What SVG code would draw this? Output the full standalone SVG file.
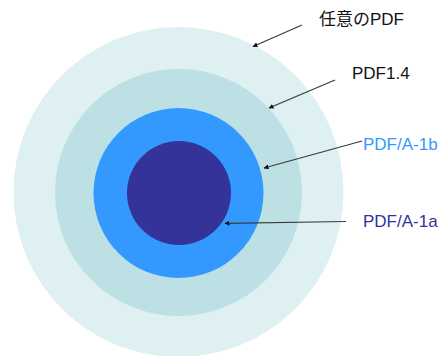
<svg xmlns="http://www.w3.org/2000/svg" width="447" height="356" viewBox="0 0 447 356">
<style>
.lbl{font-family:"Liberation Sans","Noto Sans CJK JP",Arial,sans-serif;font-size:17px}
.conn{stroke:#3a3a3a;stroke-width:1.2;fill:none;marker-end:url(#ah)}
</style>
<defs>
<marker id="ah" viewBox="0 0 10 10" refX="9" refY="5" markerWidth="5" markerHeight="5" orient="auto" markerUnits="userSpaceOnUse">
<path d="M0,0 L10,5 L0,10 z" fill="#111"/>
</marker>
</defs>
<rect width="447" height="356" fill="#ffffff"/>
<g id="any-pdf"><circle cx="178.5" cy="192" r="165" fill="#def0f1"/><text class="lbl" x="319" y="25" fill="#111">任意のPDF</text></g>
<g id="pdf14"><circle cx="178.5" cy="192.5" r="123.5" fill="#bce0e3"/><text class="lbl" x="352" y="79" fill="#111">PDF1.4</text></g>
<g id="pdfa1b"><circle cx="178.5" cy="193" r="85" fill="#3399ff"/><text class="lbl" x="363" y="150" fill="#3399ff">PDF/A-1b</text></g>
<g id="pdfa1a"><circle cx="179" cy="193" r="52" fill="#333399"/><text class="lbl" x="363" y="227" fill="#333399">PDF/A-1a</text></g>
<g id="connectors">
<line class="conn" x1="302" y1="25" x2="253" y2="46.5"/>
<line class="conn" x1="335" y1="80" x2="269" y2="108"/>
<line class="conn" x1="362" y1="141" x2="264" y2="168"/>
<line class="conn" x1="346" y1="221.5" x2="225" y2="223.3"/>
</g>
</svg>
